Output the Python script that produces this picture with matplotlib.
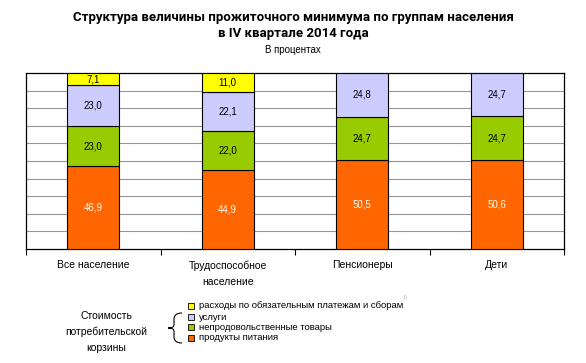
import matplotlib
matplotlib.use("Agg")
import matplotlib.pyplot as plt
import numpy as np
from matplotlib.path import Path
from matplotlib.patches import PathPatch, Rectangle

plt.rcParams['font.family'] = ['Liberation Sans', 'DejaVu Sans']

# данные
groups = ['Все население', 'Трудоспособное\nнаселение', 'Пенсионеры', 'Дети']
food = [46.9, 44.9, 50.5, 50.6]
nonfood = [23.0, 22.0, 24.7, 24.7]
services = [23.0, 22.1, 24.8, 24.7]
payments = [7.1, 11.0, 0.0, 0.0]

series = [food, nonfood, services, payments]
names = ['продукты питания', 'непродовольственные товары', 'услуги',
         'расходы по обязательным платежам и сборам']
colors = ['#FF6600', '#99CC00', '#CCCCFF', '#FFFF00']
text_colors = ['white', 'black', 'black', 'black']

W, H = 586, 363
fig = plt.figure(figsize=(W / 100, H / 100), dpi=100)

def fx(px):
    return px / W

def fy(py):
    return 1 - py / H

ax = fig.add_axes([fx(26), fy(249), fx(564) - fx(26), fy(73) - fy(249)])

x = np.arange(len(groups))
bottom = np.zeros(len(groups))
for vals, c, tc in zip(series, colors, text_colors):
    vals = np.array(vals)
    ax.bar(x, vals, width=0.39, bottom=bottom, color=c, edgecolor='black',
           linewidth=0.8, zorder=3)
    for xi, v, b in zip(x, vals, bottom):
        if v > 0:
            ax.text(xi, b + v / 2, f'{v:.1f}'.replace('.', ','), ha='center',
                    va='center', fontsize=7, color=tc, zorder=4)
    bottom += vals

ax.set_xlim(-0.5, len(groups) - 0.5)
ax.set_ylim(0, 100)
ax.set_yticks(np.arange(10, 100, 10))
ax.yaxis.grid(True, color='#969696', linewidth=0.8, zorder=0)
ax.tick_params(axis='y', length=0, labelleft=False)
ax.set_xticks(np.arange(-0.5, len(groups), 1))
ax.tick_params(axis='x', length=4, width=0.8, direction='out', labelbottom=False)
for xi, g in zip(x, groups):
    ax.text(xi, -6.5, g, ha='center', va='top', fontsize=7.5, linespacing=1.75,
            clip_on=False)
for s in ax.spines.values():
    s.set_linewidth(0.9)

fig.text(0.5, fy(17), 'Структура величины прожиточного минимума по группам населения',
         ha='center', va='center', fontsize=9.5, fontweight='bold', family='Roboto')
fig.text(0.5, fy(34), 'в IV квартале 2014 года', ha='center', va='center',
         fontsize=9.5, fontweight='bold', family='Roboto')
fig.text(0.5, fy(50), 'В процентах', ha='center', va='center', fontsize=7)

# легенда
leg_y = [338, 327, 317, 306]
for c, n, yy in zip(colors, names, leg_y):
    fig.patches.append(Rectangle((fx(188), fy(yy + 3)), fx(6), fy(0) - fy(6),
                                 transform=fig.transFigure, facecolor=c,
                                 edgecolor='black', linewidth=0.6))
    fig.text(fx(199), fy(yy), n, ha='left', va='center', fontsize=6.8)

fig.text(fx(106), fy(332), 'Стоимость\nпотребительской\nкорзины', ha='center',
         va='center', fontsize=7.5, linespacing=1.7)

# фигурная скобка
pts = [(182, 313), (174, 313), (174, 319), (174, 325), (174, 328), (168, 328),
       (174, 328), (174, 331), (174, 337), (174, 343), (182, 343)]
codes = [Path.MOVETO, Path.CURVE3, Path.CURVE3, Path.LINETO, Path.CURVE3, Path.CURVE3,
         Path.CURVE3, Path.CURVE3, Path.LINETO, Path.CURVE3, Path.CURVE3]
brace = Path([(fx(a), fy(b)) for a, b in pts], codes)
fig.patches.append(PathPatch(brace, transform=fig.transFigure, facecolor='none',
                             edgecolor='black', linewidth=0.8))

fig.text(fx(405), fy(297), '1)', fontsize=4, color='#BBBBBB', ha='center', va='center')

fig.savefig('out.png', dpi=100)
